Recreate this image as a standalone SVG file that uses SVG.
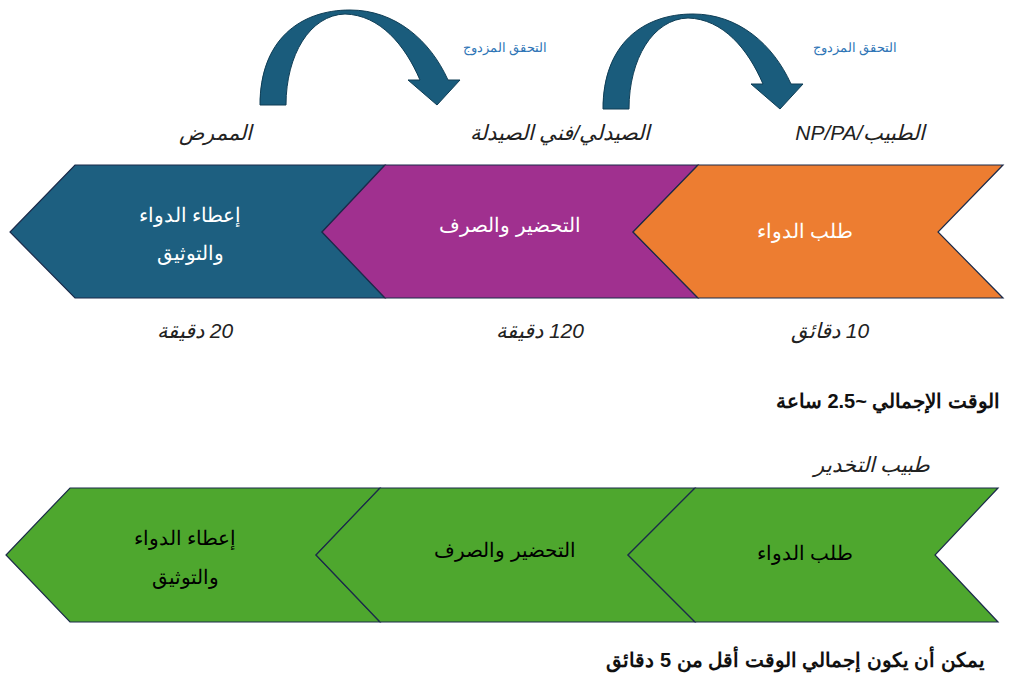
<svg xmlns="http://www.w3.org/2000/svg" width="1024" height="685" viewBox="0 0 1024 685">
<style>
text{font-family:"Liberation Sans","Noto Sans",sans-serif;direction:rtl;text-anchor:middle}
.w{fill:#fff;font-size:20px}
.k{fill:#000;font-size:20px}
.i{font-style:italic;fill:#222;font-size:21px}
.b{font-weight:bold;fill:#111;font-size:20px;text-anchor:start}
.s{fill:#2E75B6;font-size:13px}
.ch{stroke:#1b2a4a;stroke-width:1.2}
.arr{fill:#1A5C7C;stroke:#0f3d55;stroke-width:1}
</style>
<rect width="1024" height="685" fill="#fff"/>
<g id="connectors">
<path class="arr" d="M260,105 C260,40 300,10 350,10 C395,10 430,40 448,80 L460,80 L437,105 L408,80 L420,80 C405,45 380,15 345,14 C310,15 286,55 286,105 Z"/>
<path class="arr" transform="translate(343,4)" d="M260,105 C260,40 300,10 350,10 C395,10 430,40 448,80 L460,80 L437,105 L408,80 L420,80 C405,45 380,15 345,14 C310,15 286,55 286,105 Z"/>
</g>
<text class="s" x="505" y="52">التحقق المزدوج</text>
<text class="s" x="855" y="52">التحقق المزدوج</text>
<text class="i" x="215" y="140">الممرض</text>
<text class="i" x="560" y="140">الصيدلي/فني الصيدلة</text>
<text class="i" x="860" y="140">الطبيب/NP/PA</text>
<g id="n1"><polygon class="ch" fill="#1D5F80" points="75,165 385,165 322,232 385,298 75,298 10,232"/><text class="w" x="190" y="222">إعطاء الدواء</text><text class="w" x="190" y="260">والتوثيق</text></g>
<g id="n2"><polygon class="ch" fill="#A0308F" points="385,165 698,165 633,232 698,298 385,298 322,232"/><text class="w" x="510" y="232">التحضير والصرف</text></g>
<g id="n3"><polygon class="ch" fill="#ED7D31" points="698,165 1003,165 938,232 1003,298 698,298 633,232"/><text class="w" x="805" y="238">طلب الدواء</text></g>
<text class="i" x="195" y="338">20 دقيقة</text>
<text class="i" x="540" y="338">120 دقيقة</text>
<text class="i" x="830" y="338">10 دقائق</text>
<text class="b" x="1000" y="408">الوقت الإجمالي ~2.5 ساعة</text>
<text class="i" x="872" y="472">طبيب التخدير</text>
<g id="n4"><polygon class="ch" fill="#4EA72E" points="70,488 380,488 316,555 380,622 70,622 6,555"/><text class="k" x="185" y="545">إعطاء الدواء</text><text class="k" x="185" y="584">والتوثيق</text></g>
<g id="n5"><polygon class="ch" fill="#4EA72E" points="380,488 695,488 628,555 695,622 380,622 316,555"/><text class="k" x="505" y="557">التحضير والصرف</text></g>
<g id="n6"><polygon class="ch" fill="#4EA72E" points="695,488 998,488 935,555 998,622 695,622 628,555"/><text class="k" x="805" y="560">طلب الدواء</text></g>
<text class="b" x="985" y="667">يمكن أن يكون إجمالي الوقت أقل من 5 دقائق</text>
</svg>
